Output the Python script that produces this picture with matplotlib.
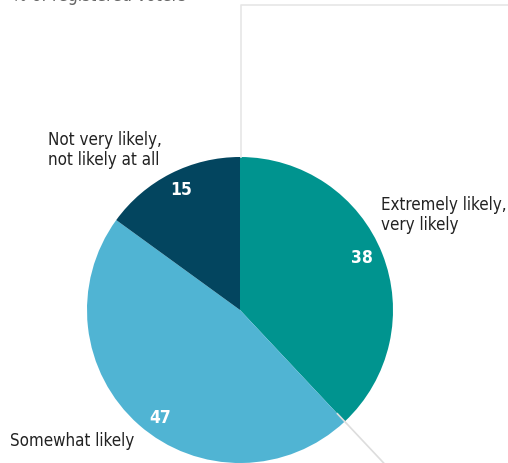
import matplotlib.pyplot as plt
import numpy as np

categories = ["Extremely likely,\nvery likely", "Somewhat likely", "Not very likely,\nnot likely at all"]
values = [38, 47, 15]
colors = ["#00948f", "#50b4d3", "#03455f"]
subtitle = "% of registered voters"

W, H = 508, 463
plt.rcParams['font.family'] = ['DejaVu Sans']
plt.rcParams['font.stretch'] = 'condensed'

fig = plt.figure(figsize=(W / 100, H / 100), dpi=100)
ax = fig.add_axes([0, 0, 1, 1])

cx, cy, r = 240, H - 310, 153
wedges, _ = ax.pie(values, colors=colors, startangle=90, counterclock=False,
                   center=(cx, cy), radius=r, frame=True,
                   wedgeprops=dict(linewidth=0))
ax.set_xlim(0, W)
ax.set_ylim(0, H)
ax.set_aspect('equal')
ax.axis('off')

# leader lines
ax.plot([cx + 1, cx + 1, W], [cy + r, H - 5, H - 5], color="#e6e6e6", lw=1.2)
ang = np.deg2rad(90 - values[0] / sum(values) * 360)
ax.plot([cx + 0.93 * r * np.cos(ang), cx + 1.45 * r * np.cos(ang)],
        [cy + 0.93 * r * np.sin(ang), cy + 1.45 * r * np.sin(ang)],
        color="#dddddd", lw=1.2)

# value labels
val_pos = [(362, 258), (160, 418), (181, 190)]
for v, (x, y) in zip(values, val_pos):
    ax.text(x, H - y, str(v), color="white", fontsize=12.5, fontweight='bold',
            ha='center', va='center')

# category labels
lab = dict(fontsize=12.2, color="#222222", ha='left', va='center', linespacing=1.1)
ax.text(381, H - 215, categories[0], **lab)
ax.text(10, H - 441, categories[1], **lab)
ax.text(48, H - 150, categories[2], **lab)

ax.text(12, H - 1, subtitle, fontsize=12.5, color="#666666", ha='left', va='baseline')

fig.savefig("out.png", dpi=100)
